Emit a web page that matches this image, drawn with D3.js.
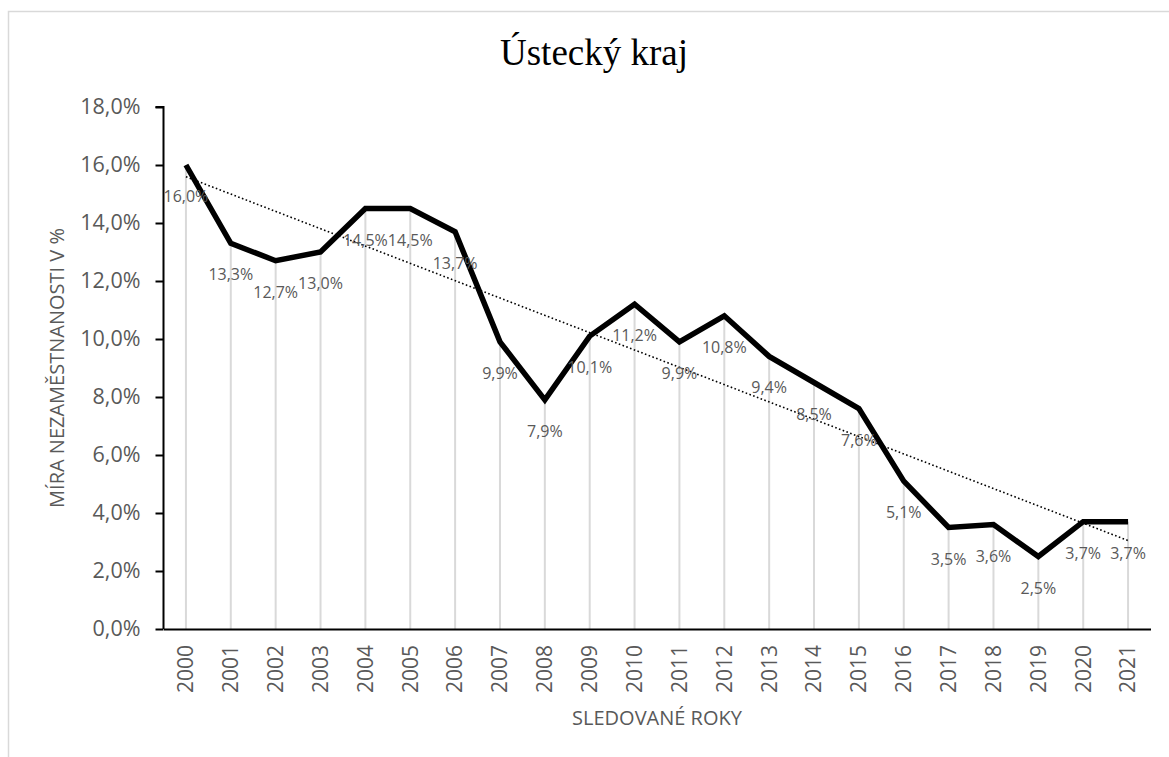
<!DOCTYPE html>
<html>
<head>
<meta charset="utf-8">
<script src="https://cdn.jsdelivr.net/npm/d3@7"></script>
<style>
  body { margin: 0; background: #fff; }
  text { font-family: "Open Sans", sans-serif; fill: #595959; }
</style>
</head>
<body>
<div id="chart"></div>
<script>
// data
var years = ["2000", "2001", "2002", "2003", "2004", "2005", "2006", "2007", "2008", "2009", "2010",
  "2011", "2012", "2013", "2014", "2015", "2016", "2017", "2018", "2019", "2020", "2021"];
var rates = [16.0, 13.3, 12.7, 13.0, 14.5, 14.5, 13.7, 9.9, 7.9, 10.1, 11.2,
  9.9, 10.8, 9.4, 8.5, 7.6, 5.1, 3.5, 3.6, 2.5, 3.7, 3.7];
var yTicks = [0, 2, 4, 6, 8, 10, 12, 14, 16, 18];

var chartTitle = "Ústecký kraj";
var xTitle = "SLEDOVANÉ ROKY";
var yTitle = "MÍRA NEZAMĚSTNANOSTI V %";

var W = 1169, H = 757;
var plot = { left: 163.5, right: 1150.5, top: 107, bottom: 629 };

var data = years.map(function (d, i) { return { year: d, value: rates[i] }; });

function fmt(v) {
  return v.toFixed(1).replace(".", ",") + "%";
}

var svg = d3.select("#chart").append("svg")
  .attr("width", W)
  .attr("height", H);

// outer chart border
svg.append("rect")
  .attr("x", 8.5).attr("y", 11.5)
  .attr("width", W + 10).attr("height", H + 10)
  .attr("fill", "#fff")
  .attr("stroke", "#d9d9d9")
  .attr("stroke-width", 1.5);

var x = d3.scaleBand().domain(years).range([plot.left, plot.right]).padding(0);
var y = d3.scaleLinear().domain([0, 18]).range([plot.bottom, plot.top]);

function cx(d) { return x(d) + x.bandwidth() / 2; }

// drop lines
svg.append("g")
  .selectAll("line")
  .data(data).enter().append("line")
  .attr("x1", function (d) { return cx(d.year); })
  .attr("x2", function (d) { return cx(d.year); })
  .attr("y1", function (d) { return y(d.value); })
  .attr("y2", plot.bottom)
  .attr("stroke", "#d9d9d9")
  .attr("stroke-width", 2);

// y axis
var yAxis = svg.append("g")
  .attr("transform", "translate(" + plot.left + ",0)")
  .call(d3.axisLeft(y).tickValues(yTicks).tickSize(8).tickPadding(15)
    .tickFormat(function (d) { return fmt(d); }));
yAxis.selectAll("path").attr("d", "M-8," + y(18) + "H0V" + plot.bottom)
  .attr("stroke", "#000").attr("stroke-width", 2);
yAxis.selectAll("line").attr("stroke", "#000").attr("stroke-width", 2);
yAxis.selectAll("text")
  .style("font-size", "21.5px")
  .style("font-family", "'Open Sans', sans-serif")
  .attr("fill", "#595959");

// x axis
var xAxis = svg.append("g")
  .attr("transform", "translate(0," + plot.bottom + ")")
  .call(d3.axisBottom(x).tickSize(0).tickPadding(0));
xAxis.select("path").attr("stroke", "#000").attr("stroke-width", 2);
xAxis.selectAll("text")
  .style("font-size", "21px")
  .style("font-family", "'Open Sans', sans-serif")
  .attr("fill", "#595959")
  .attr("text-anchor", "end")
  .attr("y", 0)
  .attr("dy", "0.35em")
  .attr("transform", "translate(0,16) rotate(-90)");

// series line
var line = d3.line()
  .x(function (d) { return cx(d.year); })
  .y(function (d) { return y(d.value); });

svg.append("path")
  .datum(data)
  .attr("d", line)
  .attr("fill", "none")
  .attr("stroke", "#000")
  .attr("stroke-width", 5.5)
  .attr("stroke-linejoin", "miter");

// linear trend (least squares over the series)
var n = rates.length;
var mx = d3.mean(rates, function (d, i) { return i; });
var my = d3.mean(rates);
var sxy = d3.sum(rates, function (d, i) { return (i - mx) * (d - my); });
var sxx = d3.sum(rates, function (d, i) { return (i - mx) * (i - mx); });
var slope = sxy / sxx;
var icpt = my - slope * mx;
var trend = [
  { year: years[0], value: icpt },
  { year: years[n - 1], value: icpt + slope * (n - 1) }
];

svg.append("path")
  .datum(trend)
  .attr("d", line)
  .attr("fill", "none")
  .attr("stroke", "#000")
  .attr("stroke-width", 1.6)
  .attr("stroke-dasharray", "1.6,2.4");

// data labels
svg.append("g")
  .selectAll("text")
  .data(data).enter().append("text")
  .attr("x", function (d) { return cx(d.year); })
  .attr("y", function (d) { return y(d.value) + 37; })
  .attr("text-anchor", "middle")
  .style("font-size", "16px")
  .text(function (d) { return fmt(d.value); });

// titles
svg.append("text")
  .attr("x", 594).attr("y", 65)
  .attr("text-anchor", "middle")
  .style("font-family", "'Liberation Serif', 'Times New Roman', serif")
  .style("font-size", "37px")
  .style("fill", "#000")
  .text(chartTitle);

svg.append("text")
  .attr("x", (plot.left + plot.right) / 2).attr("y", 725)
  .attr("text-anchor", "middle")
  .style("font-size", "20px")
  .text(xTitle);

svg.append("text")
  .attr("transform", "translate(64," + (plot.top + plot.bottom) / 2 + ") rotate(-90)")
  .attr("text-anchor", "middle")
  .style("font-size", "20px")
  .text(yTitle);
</script>
</body>
</html>
